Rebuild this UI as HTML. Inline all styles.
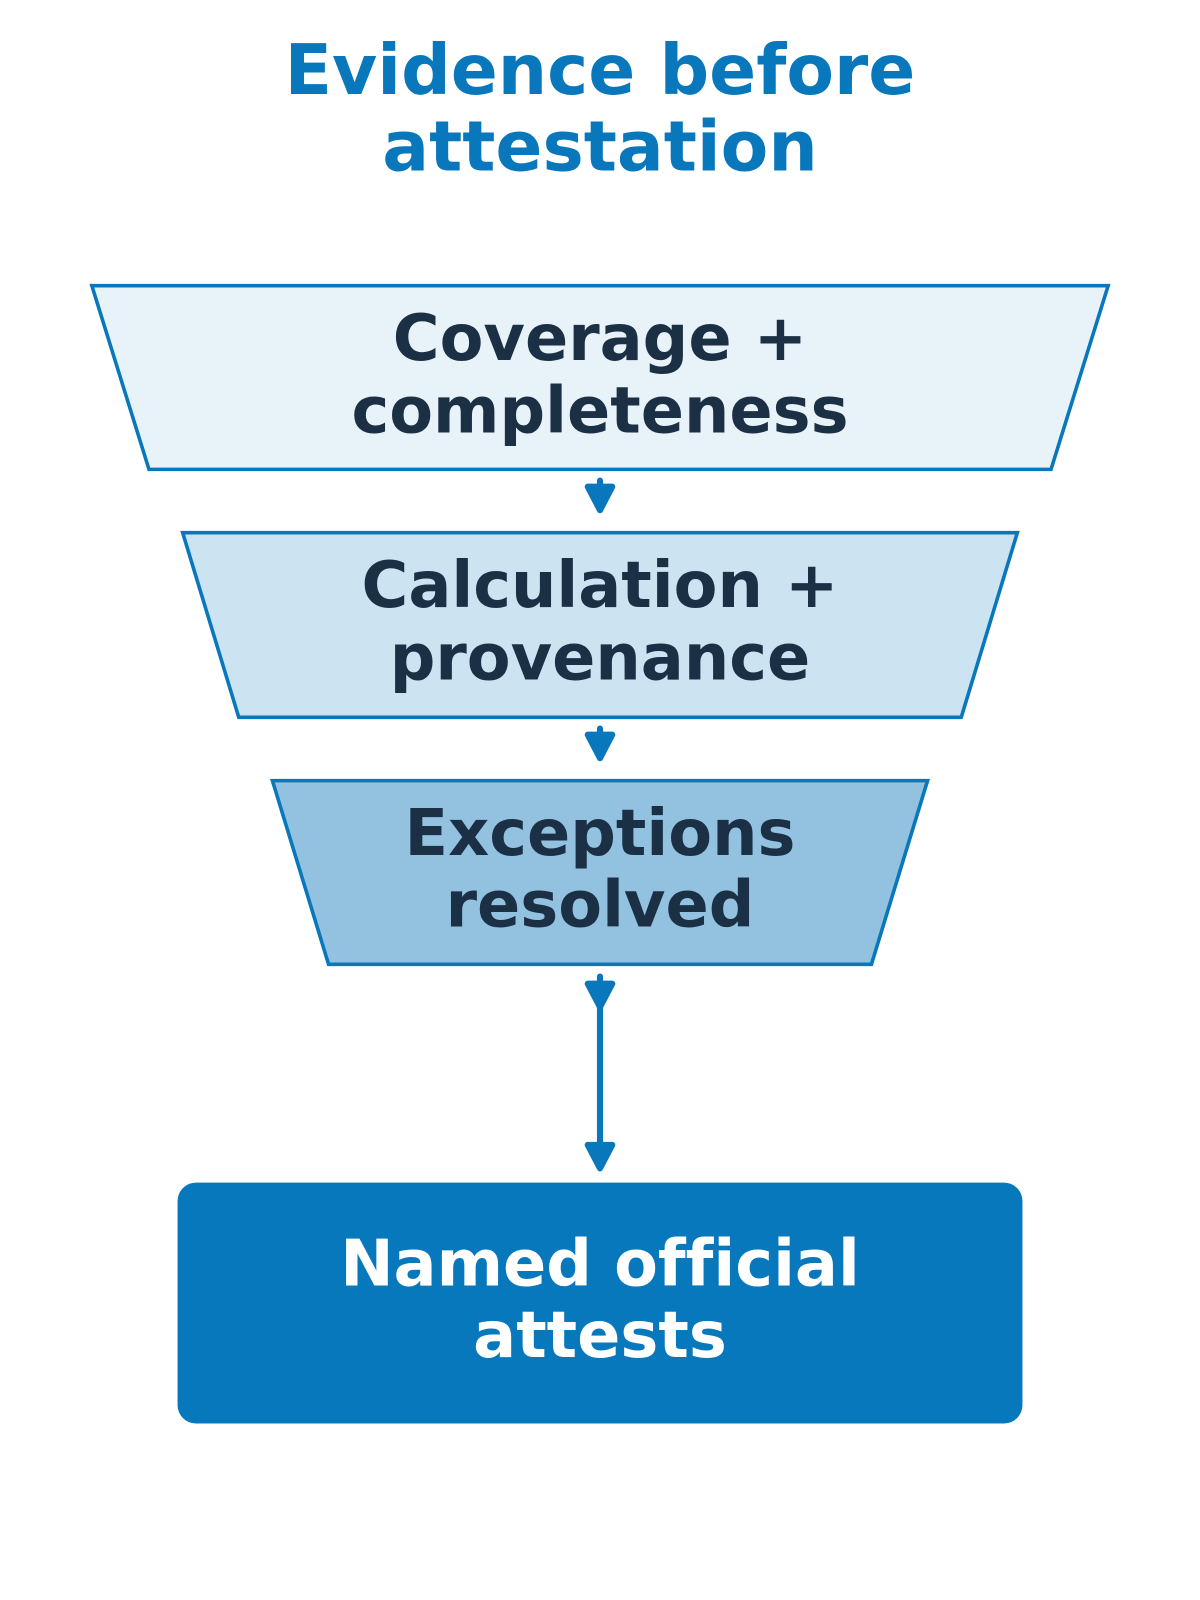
<!DOCTYPE html>
<html><head><meta charset="utf-8"><style>
html,body{margin:0;padding:0;background:#fff;}
svg{display:block;}
text{font-family:"DejaVu Sans","Liberation Sans",sans-serif;font-weight:bold;text-anchor:middle;font-variant-ligatures:none;}
</style></head><body>
<svg width="1200" height="1600" viewBox="0 0 1176 1568" xmlns="http://www.w3.org/2000/svg">
<text x="588" y="92" font-size="68" fill="#0877bb">Evidence before</text>
<text x="588" y="167" font-size="68" fill="#0877bb">attestation</text>

<polygon points="90,280 1086,280 1030,460 146,460" fill="#e8f2f9" stroke="#0877bb" stroke-width="3.5"/>
<text x="588" y="353" font-size="62.5" fill="#1b2f45">Coverage +</text>
<text x="588" y="424" font-size="62.5" fill="#1b2f45">completeness</text>

<polygon points="179,522 997,522 942,703 234,703" fill="#cce3f1" stroke="#0877bb" stroke-width="3.5"/>
<text x="588" y="595" font-size="62.5" fill="#1b2f45">Calculation +</text>
<text x="588" y="666" font-size="62.5" fill="#1b2f45">provenance</text>

<polygon points="267,765 909,765 854,945 322,945" fill="#92c2e0" stroke="#0877bb" stroke-width="3.5"/>
<text x="588" y="838" font-size="62.5" fill="#1b2f45">Exceptions</text>
<text x="588" y="908" font-size="62.5" fill="#1b2f45">resolved</text>

<g stroke="#0877bb" stroke-width="6" stroke-linecap="round" stroke-linejoin="round" fill="#0877bb">
<line x1="588" y1="471" x2="588" y2="490"/>
<polygon points="576,477 600,477 588,500"/>
<line x1="588" y1="714" x2="588" y2="733"/>
<polygon points="576,720 600,720 588,743"/>
<line x1="588" y1="957" x2="588" y2="1135"/>
<polygon points="576,964 600,964 588,987"/>
<polygon points="576,1122 600,1122 588,1145"/>
</g>

<rect x="174" y="1159" width="828" height="236" rx="18" fill="#0878bc"/>
<text x="588" y="1260" font-size="62.5" fill="#ffffff">Named official</text>
<text x="588" y="1330" font-size="62.5" fill="#ffffff">attests</text>
</svg>
</body></html>
